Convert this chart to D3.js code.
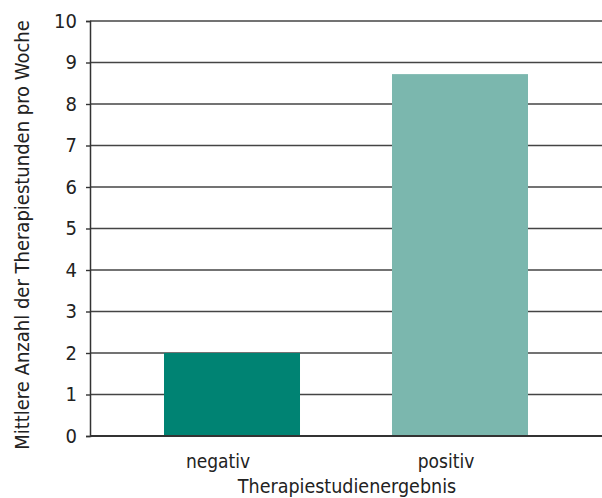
<!DOCTYPE html>
<html>
<head>
<meta charset="utf-8">
<script src="https://cdn.jsdelivr.net/npm/d3@7"></script>
<style>
  html, body { margin: 0; padding: 0; background: #fff; }
  svg text { font-family: "DejaVu Sans Condensed", "Liberation Sans Narrow", "Open Sans", sans-serif; fill: #222; }
</style>
</head>
<body>
<svg id="chart" width="602" height="498"></svg>
<script>
// Mean therapy hours per week by trial outcome
const categories = ["negativ", "positiv"];
const values = [2.0, 8.72];
const barColors = ["#008373", "#7bb7ae"];
const yTicks = [0, 1, 2, 3, 4, 5, 6, 7, 8, 9, 10];
const xTitle = "Therapiestudienergebnis";
const yTitle = "Mittlere Anzahl der Therapiestunden pro Woche";

const svg = d3.select("#chart");
const plotLeft = 90, plotRight = 602, plotTop = 21, plotBottom = 436;

const x = d3.scaleBand().domain(categories).range([plotLeft, plotRight])
  .paddingInner(0.4035).paddingOuter(0.3246);
const y = d3.scaleLinear().domain([0, 10]).range([plotBottom, plotTop]);

// horizontal grid lines
svg.append("g").selectAll("line").data(yTicks.filter(d => d > 0)).join("line")
  .attr("x1", plotLeft).attr("x2", plotRight)
  .attr("y1", d => y(d)).attr("y2", d => y(d))
  .attr("stroke", "#444").attr("stroke-width", 1.4);

// bars
svg.append("g").selectAll("rect").data(categories).join("rect")
  .attr("x", d => x(d)).attr("width", x.bandwidth())
  .attr("y", (d, i) => y(values[i]))
  .attr("height", (d, i) => y(0) - y(values[i]))
  .attr("fill", (d, i) => barColors[i]);

// y axis
const yAxis = svg.append("g").attr("transform", `translate(${plotLeft},0)`)
  .call(d3.axisLeft(y).tickValues(yTicks).tickSize(4).tickPadding(9).tickFormat(d3.format("d")));
yAxis.select(".domain").attr("stroke", "#333").attr("stroke-width", 1.5);
yAxis.selectAll(".tick line").attr("stroke", "#333").attr("stroke-width", 1.4);
yAxis.selectAll(".tick text").attr("font-size", 20).attr("fill", "#222");

// x axis baseline and category labels (set slightly left of bar centres)
const xAxis = svg.append("g").attr("transform", `translate(0,${plotBottom})`)
  .call(d3.axisBottom(x).tickSize(0).tickPadding(0));
xAxis.select(".domain").attr("stroke", "#333").attr("stroke-width", 1.8)
  .attr("d", `M${plotLeft},0H${plotRight}`);
xAxis.selectAll(".tick text").attr("font-size", 19).attr("fill", "#222")
  .attr("dy", null).attr("y", 32).attr("x", -14);

// axis titles
svg.append("text").attr("x", 347).attr("y", 493)
  .attr("text-anchor", "middle").attr("font-size", 19.5).text(xTitle);
svg.append("text")
  .attr("transform", `translate(29,235) rotate(-90)`)
  .attr("text-anchor", "middle").attr("font-size", 20).text(yTitle);
</script>
</body>
</html>
